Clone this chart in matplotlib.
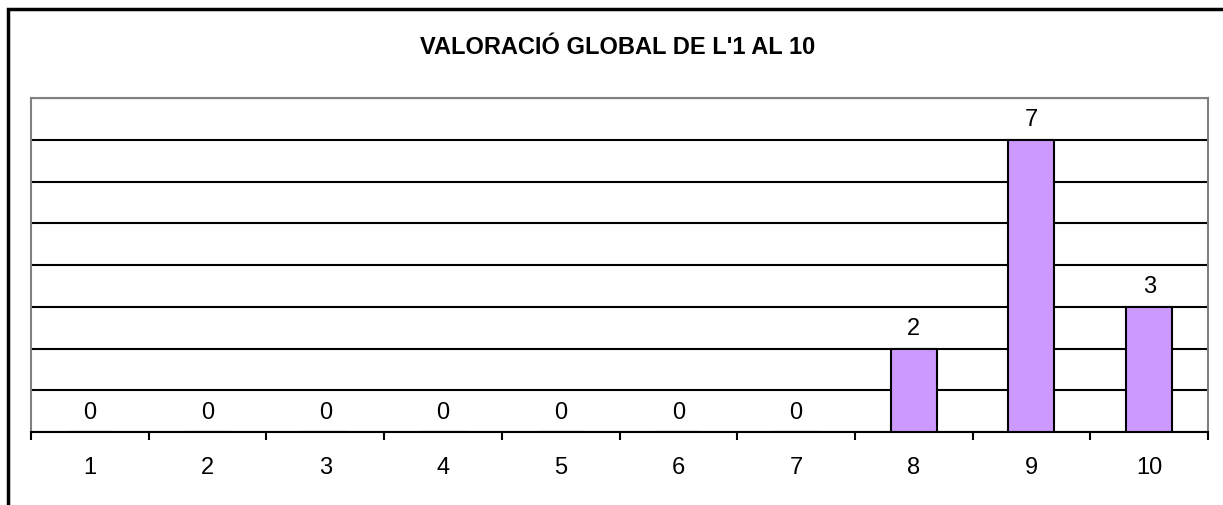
import numpy as np
import matplotlib.pyplot as plt
from matplotlib.patches import Rectangle

# Valoració global de l'1 al 10: nombre de respostes per puntuació
puntuacions = ['1', '2', '3', '4', '5', '6', '7', '8', '9', '10']
respostes = [0, 0, 0, 0, 0, 0, 0, 2, 7, 3]

plt.rcParams['font.family'] = ['Liberation Sans', 'DejaVu Sans']

fig = plt.figure(figsize=(12.23, 5.05), dpi=100)

# marc exterior del gràfic (només es veuen la vora esquerra i la superior)
fig.patches.append(Rectangle((8 / 1223, -0.1), 1.2, 1.1 - 9 / 505,
                             transform=fig.transFigure, fill=False,
                             edgecolor='black', linewidth=2.5))

ax = fig.add_axes([31 / 1223, 1 - 432 / 505, (1208 - 31) / 1223, (432 - 98) / 505])

x = np.arange(len(puntuacions))
ax.bar(x, respostes, width=0.39, color='#cc99ff', edgecolor='black',
       linewidth=1.5, zorder=3)

for xi, v in zip(x, respostes):
    ax.annotate(str(v), (xi, v), xytext=(0, 6), textcoords='offset points',
                ha='center', va='bottom', fontsize=17)

ax.set_xlim(-0.5, len(puntuacions) - 0.5)
ax.set_ylim(0, 8)
ax.set_yticks(np.arange(0, 9))
ax.yaxis.grid(True, color='black', linewidth=1.5, zorder=1)
ax.tick_params(axis='y', length=0, labelleft=False)

# marques a les vores de cada categoria, etiquetes al centre
ax.set_xticks(np.arange(-0.5, len(puntuacions)), minor=False)
ax.set_xticklabels([])
ax.set_xticks(x, minor=True)
ax.set_xticklabels(puntuacions, minor=True, fontsize=17)
ax.tick_params(axis='x', which='major', direction='out', length=6, width=1.5)
ax.tick_params(axis='x', which='minor', length=0, pad=18)

for s in ['top', 'left', 'right']:
    ax.spines[s].set_color('#808080')
    ax.spines[s].set_linewidth(1.5)
ax.spines['bottom'].set_color('black')
ax.spines['bottom'].set_linewidth(1.5)

fig.text(618 / 1223, 1 - 47 / 505, "VALORACIÓ GLOBAL DE L'1 AL 10", ha='center',
         va='center', fontsize=17, fontweight='bold')

fig.savefig('out.png', dpi=100)
